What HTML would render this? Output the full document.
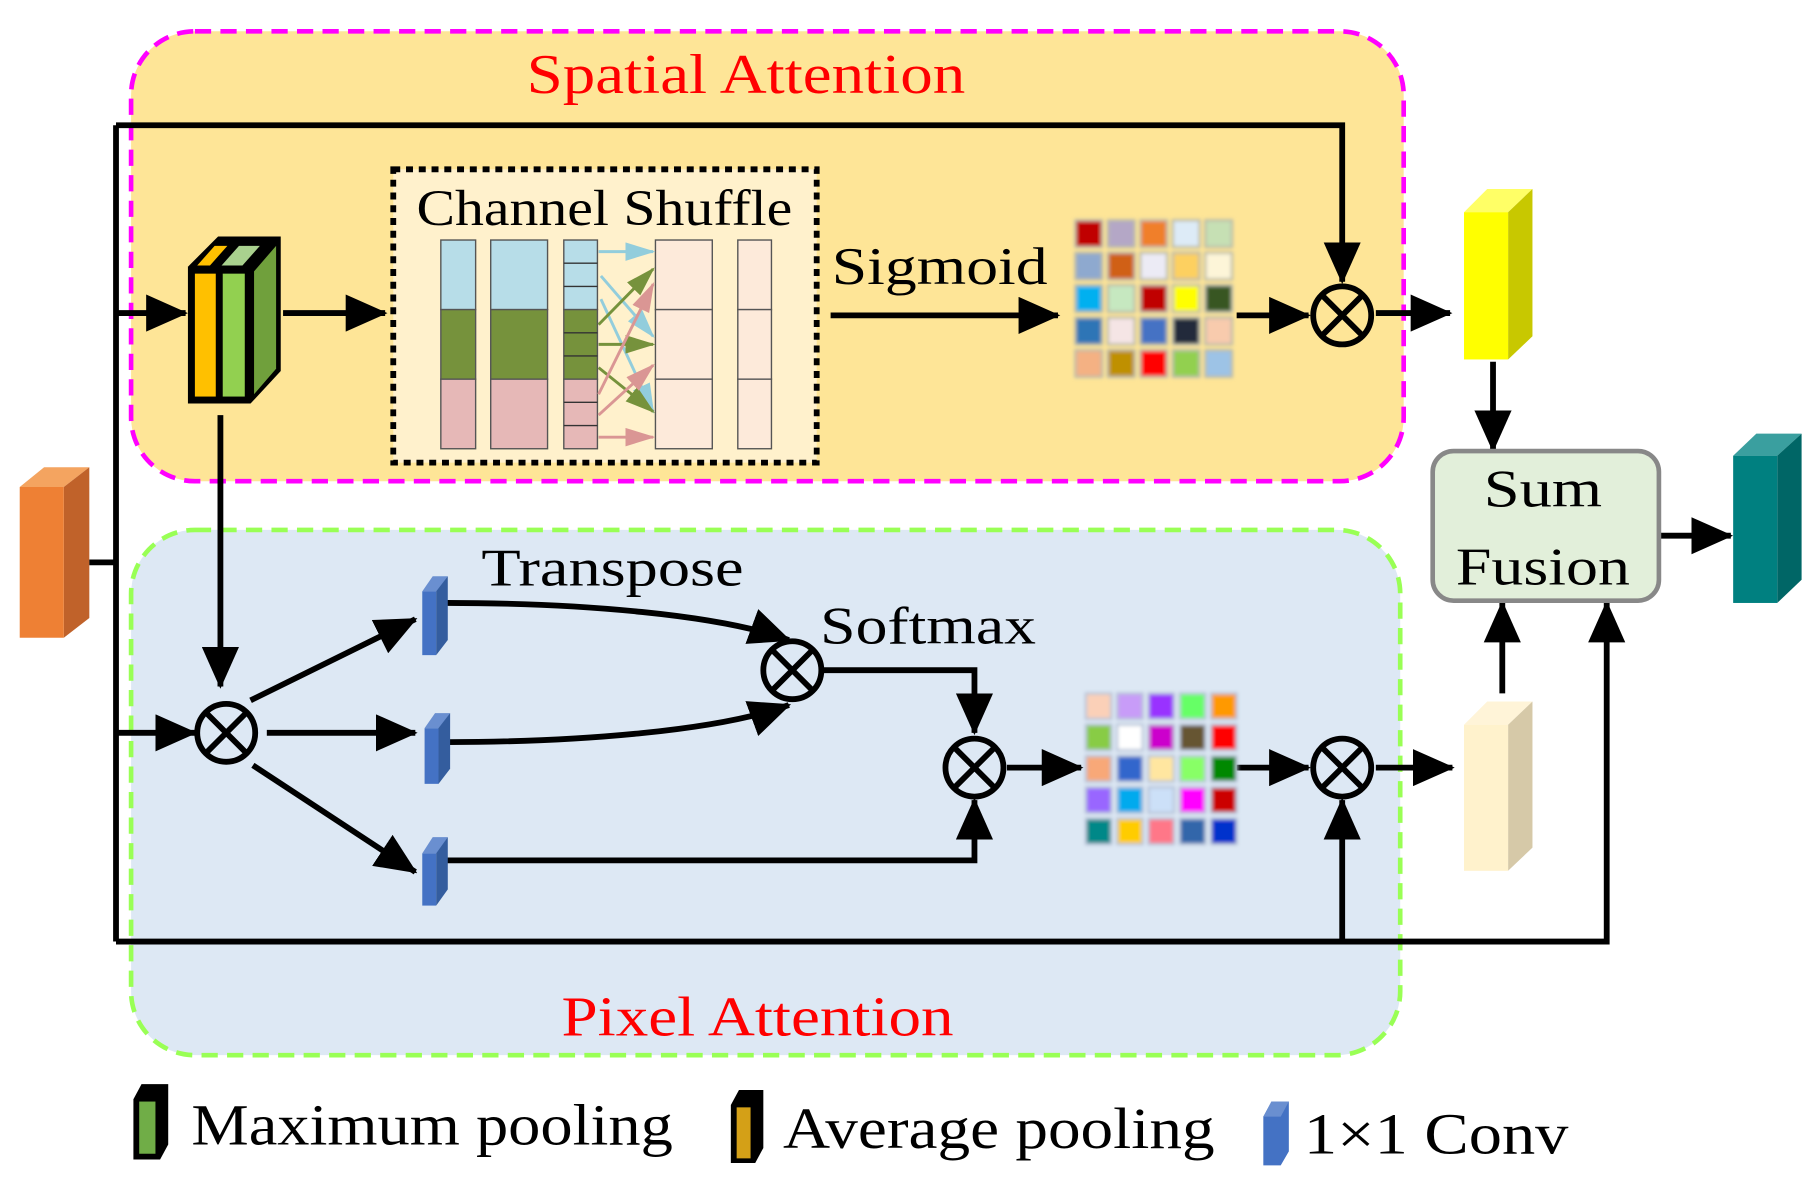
<!DOCTYPE html>
<html><head><meta charset="utf-8"><style>
html,body{margin:0;padding:0;background:#fff;}
svg{display:block;}
text{font-family:"Liberation Serif",serif;}
</style></head><body>
<svg width="1819" height="1192" viewBox="0 0 1568 1028" preserveAspectRatio="none" xmlns="http://www.w3.org/2000/svg">
<defs>
<marker id="a" markerUnits="userSpaceOnUse" markerWidth="36" markerHeight="32" refX="34" refY="16" orient="auto">
<path d="M0,0 L36,16 L0,32 z" fill="#000"/></marker>
<marker id="sb" markerUnits="userSpaceOnUse" markerWidth="26" markerHeight="16" refX="24" refY="8" orient="auto"><path d="M0,0 L26,8 L0,16 z" fill="#92cddc"/></marker>
<marker id="sg" markerUnits="userSpaceOnUse" markerWidth="26" markerHeight="16" refX="24" refY="8" orient="auto"><path d="M0,0 L26,8 L0,16 z" fill="#76923c"/></marker>
<marker id="sp" markerUnits="userSpaceOnUse" markerWidth="26" markerHeight="16" refX="24" refY="8" orient="auto"><path d="M0,0 L26,8 L0,16 z" fill="#da9694"/></marker>
<g id="ot"><circle r="25" fill="none" stroke="#000" stroke-width="5"/><path d="M-17,-17 L17,17 M17,-17 L-17,17" stroke="#000" stroke-width="5"/></g>
<filter id="bl"><feGaussianBlur stdDeviation="1.6"/></filter>
</defs>

<rect x="113" y="27" width="1097" height="388" rx="55" fill="#fee597" stroke="#ff00ff" stroke-width="4" stroke-dasharray="14,8"/>
<rect x="113" y="457" width="1094" height="453" rx="55" fill="#dde8f4" stroke="#99ff55" stroke-width="4" stroke-dasharray="14,8"/>
<text x="643" y="80" font-size="48" fill="#ff0000" text-anchor="middle" textLength="378" lengthAdjust="spacingAndGlyphs">Spatial Attention</text>
<text x="653" y="893" font-size="48" fill="#ff0000" text-anchor="middle" textLength="338" lengthAdjust="spacingAndGlyphs">Pixel Attention</text>

<polygon points="17,420 38,403 77,403 55,420" fill="#f4a460"/>
<polygon points="55,420 77,403 77,533 55,550" fill="#c0622a"/>
<rect x="17" y="420" width="38" height="130" fill="#ee8034"/>

<g stroke="#000" stroke-width="5" fill="none">
<path d="M77,485 H100"/>
<path d="M100,108 V812"/>
<path d="M100,108 H1157 V243" marker-end="url(#a)"/>
<path d="M100,270 H160" marker-end="url(#a)"/>
<path d="M100,812 H1385 V520" marker-end="url(#a)"/>
<path d="M1157,812 V690" marker-end="url(#a)"/>
<path d="M100,632 H168" marker-end="url(#a)"/>
<path d="M244,270 H332" marker-end="url(#a)"/>
<path d="M190,358 V592" marker-end="url(#a)"/>
<path d="M716,272 H912" marker-end="url(#a)"/>
<path d="M1066,272 H1128" marker-end="url(#a)"/>
<path d="M1186,270 H1250" marker-end="url(#a)"/>
<path d="M1287,312 V388" marker-end="url(#a)"/>
<path d="M1430,462 H1492" marker-end="url(#a)"/>
<path d="M1295,598 V520" marker-end="url(#a)"/>
<path d="M216,604 L358,534" marker-end="url(#a)"/>
<path d="M230,632 H358" marker-end="url(#a)"/>
<path d="M218,660 L358,752" marker-end="url(#a)"/>
<path d="M385,520 C500,520 620,530 680,552" marker-end="url(#a)"/>
<path d="M385,640 C500,640 620,630 680,608" marker-end="url(#a)"/>
<path d="M710,578 H840 V632" marker-end="url(#a)"/>
<path d="M385,742 H840 V690" marker-end="url(#a)"/>
<path d="M868,662 H932" marker-end="url(#a)"/>
<path d="M1066,662 H1128" marker-end="url(#a)"/>
<path d="M1186,662 H1252" marker-end="url(#a)"/>
</g>

<!-- pooling block -->
<polygon points="162,348 162,230 188,204 242,204 242,320 216,348" fill="#000"/>
<rect x="168" y="236" width="18" height="106" fill="#ffc000"/>
<rect x="192" y="236" width="19" height="106" fill="#92d050"/>
<polygon points="219,234 238,212 238,318 219,340" fill="#70a03c"/>
<polygon points="170,229 185,212 196,212 181,229" fill="#ffc000"/>
<polygon points="191,229 206,212 224,212 209,229" fill="#a9d18e"/>

<rect x="339" y="146" width="365" height="253" fill="#fff1cc" stroke="#000" stroke-width="5" stroke-dasharray="6,5"/>
<text x="521" y="194" font-size="44" text-anchor="middle" textLength="324" lengthAdjust="spacingAndGlyphs">Channel Shuffle</text>
<g stroke="#555" stroke-width="1.2">
<rect x="380" y="207" width="30" height="60" fill="#b7dde8"/><rect x="380" y="267" width="30" height="60" fill="#76923c"/><rect x="380" y="327" width="30" height="60" fill="#e6b8b7"/>
<rect x="423" y="207" width="49" height="60" fill="#b7dde8"/><rect x="423" y="267" width="49" height="60" fill="#76923c"/><rect x="423" y="327" width="49" height="60" fill="#e6b8b7"/>
<rect x="486" y="207" width="29" height="60" fill="#b7dde8"/><rect x="486" y="267" width="29" height="60" fill="#76923c"/><rect x="486" y="327" width="29" height="60" fill="#e6b8b7"/>
<path d="M486,227H515M486,247H515M486,287H515M486,307H515M486,347H515M486,367H515" stroke="#333"/>
<rect x="565" y="207" width="49" height="60" fill="#fdeada"/><rect x="565" y="267" width="49" height="60" fill="#fdeada"/><rect x="565" y="327" width="49" height="60" fill="#fdeada"/>
<rect x="636" y="207" width="29" height="60" fill="#fdeada"/><rect x="636" y="267" width="29" height="60" fill="#fdeada"/><rect x="636" y="327" width="29" height="60" fill="#fdeada"/>
</g>
<g stroke-width="2.5" fill="none">
<path d="M516,217 H563" stroke="#92cddc" marker-end="url(#sb)"/>
<path d="M518,238 L563,290" stroke="#92cddc" marker-end="url(#sb)"/>
<path d="M518,258 L563,355" stroke="#92cddc" marker-end="url(#sb)"/>
<path d="M516,280 L563,232" stroke="#76923c" marker-end="url(#sg)"/>
<path d="M516,297 H563" stroke="#76923c" marker-end="url(#sg)"/>
<path d="M516,317 L563,355" stroke="#76923c" marker-end="url(#sg)"/>
<path d="M516,340 L563,245" stroke="#da9694" marker-end="url(#sp)"/>
<path d="M516,358 L563,315" stroke="#da9694" marker-end="url(#sp)"/>
<path d="M516,377 H563" stroke="#da9694" marker-end="url(#sp)"/>
</g>

<text x="810" y="245" font-size="46" text-anchor="middle" textLength="186" lengthAdjust="spacingAndGlyphs">Sigmoid</text>

<g filter="url(#bl)" stroke="#bba" stroke-width="2">
<rect x="927" y="190" width="23" height="23" fill="#c00000"/><rect x="955" y="190" width="23" height="23" fill="#b4a7c6"/><rect x="983" y="190" width="23" height="23" fill="#f07f2a"/><rect x="1011" y="190" width="23" height="23" fill="#ddebf7"/><rect x="1039" y="190" width="23" height="23" fill="#c6e0b4"/>
<rect x="927" y="218" width="23" height="23" fill="#8ea9cf"/><rect x="955" y="218" width="23" height="23" fill="#d06018"/><rect x="983" y="218" width="23" height="23" fill="#ecebf5"/><rect x="1011" y="218" width="23" height="23" fill="#fdd060"/><rect x="1039" y="218" width="23" height="23" fill="#fdf5d8"/>
<rect x="927" y="246" width="23" height="23" fill="#00b0f0"/><rect x="955" y="246" width="23" height="23" fill="#c6e8c0"/><rect x="983" y="246" width="23" height="23" fill="#c00000"/><rect x="1011" y="246" width="23" height="23" fill="#ffff00"/><rect x="1039" y="246" width="23" height="23" fill="#375623"/>
<rect x="927" y="274" width="23" height="23" fill="#2e75b6"/><rect x="955" y="274" width="23" height="23" fill="#f5e5e5"/><rect x="983" y="274" width="23" height="23" fill="#4472c4"/><rect x="1011" y="274" width="23" height="23" fill="#222a3a"/><rect x="1039" y="274" width="23" height="23" fill="#f8cbad"/>
<rect x="927" y="302" width="23" height="23" fill="#f4b183"/><rect x="955" y="302" width="23" height="23" fill="#bf9000"/><rect x="983" y="302" width="23" height="23" fill="#ff0000"/><rect x="1011" y="302" width="23" height="23" fill="#92d050"/><rect x="1039" y="302" width="23" height="23" fill="#9dc3e6"/>
</g>

<g filter="url(#bl)" stroke="#b8c4d8" stroke-width="2">
<rect x="936" y="598" width="22" height="22" fill="#fbd0b8"/><rect x="963" y="598" width="22" height="22" fill="#c89cf8"/><rect x="990" y="598" width="22" height="22" fill="#9933ff"/><rect x="1017" y="598" width="22" height="22" fill="#66ff66"/><rect x="1044" y="598" width="22" height="22" fill="#ff9900"/>
<rect x="936" y="625" width="22" height="22" fill="#88cc44"/><rect x="963" y="625" width="22" height="22" fill="#ffffff"/><rect x="990" y="625" width="22" height="22" fill="#cc00cc"/><rect x="1017" y="625" width="22" height="22" fill="#665533"/><rect x="1044" y="625" width="22" height="22" fill="#ff0000"/>
<rect x="936" y="652" width="22" height="22" fill="#f8a878"/><rect x="963" y="652" width="22" height="22" fill="#3366cc"/><rect x="990" y="652" width="22" height="22" fill="#ffe6a0"/><rect x="1017" y="652" width="22" height="22" fill="#88ff66"/><rect x="1044" y="652" width="22" height="22" fill="#008800"/>
<rect x="936" y="679" width="22" height="22" fill="#9966ff"/><rect x="963" y="679" width="22" height="22" fill="#00aaee"/><rect x="990" y="679" width="22" height="22" fill="#cce0f8"/><rect x="1017" y="679" width="22" height="22" fill="#ff00ff"/><rect x="1044" y="679" width="22" height="22" fill="#cc0000"/>
<rect x="936" y="706" width="22" height="22" fill="#008888"/><rect x="963" y="706" width="22" height="22" fill="#ffcc00"/><rect x="990" y="706" width="22" height="22" fill="#ff7788"/><rect x="1017" y="706" width="22" height="22" fill="#3366aa"/><rect x="1044" y="706" width="22" height="22" fill="#0033cc"/>
</g>

<use href="#ot" x="1157" y="272"/>
<use href="#ot" x="195" y="632"/>
<use href="#ot" x="683" y="578"/>
<use href="#ot" x="840" y="662"/>
<use href="#ot" x="1157" y="662"/>

<g>
<polygon points="364,510 373,497 386,497 377,510" fill="#6a8fd0"/><rect x="364" y="510" width="12" height="55" fill="#4472c4"/><polygon points="376,510 386,497 386,552 376,565" fill="#345d9e"/>
<polygon points="366,628 375,615 388,615 379,628" fill="#6a8fd0"/><rect x="366" y="628" width="12" height="48" fill="#4472c4"/><polygon points="378,628 388,615 388,663 378,676" fill="#345d9e"/>
<polygon points="364,736 373,722 386,722 377,736" fill="#6a8fd0"/><rect x="364" y="736" width="12" height="45" fill="#4472c4"/><polygon points="376,736 386,722 386,767 376,781" fill="#345d9e"/>
</g>
<text x="528" y="505" font-size="46" text-anchor="middle" textLength="226" lengthAdjust="spacingAndGlyphs">Transpose</text>
<text x="800" y="555" font-size="46" text-anchor="middle" textLength="186" lengthAdjust="spacingAndGlyphs">Softmax</text>

<polygon points="1262,183 1282,163 1321,163 1300,183" fill="#ffff66"/>
<polygon points="1300,183 1321,163 1321,290 1300,310" fill="#c8c800"/>
<rect x="1262" y="183" width="38" height="127" fill="#ffff00"/>
<polygon points="1262,625 1282,605 1321,605 1300,625" fill="#fff4d8"/>
<polygon points="1300,625 1321,605 1321,731 1300,751" fill="#d6c9a8"/>
<rect x="1262" y="625" width="38" height="126" fill="#fff2cc"/>
<polygon points="1494,393 1514,374 1553,374 1532,393" fill="#3a9f9f"/>
<polygon points="1532,393 1553,374 1553,500 1532,520" fill="#006666"/>
<rect x="1494" y="393" width="38" height="127" fill="#008080"/>

<rect x="1235" y="389" width="195" height="129" rx="18" fill="#e2efda" stroke="#888" stroke-width="4"/>
<text x="1330" y="437" font-size="46" text-anchor="middle" textLength="102" lengthAdjust="spacingAndGlyphs">Sum</text>
<text x="1330" y="504" font-size="46" text-anchor="middle" textLength="150" lengthAdjust="spacingAndGlyphs">Fusion</text>

<polygon points="115,948 122,935 145,935 145,987 138,1000 115,1000" fill="#000"/>
<rect x="120" y="950" width="14" height="45" fill="#70ad47"/>
<text x="165" y="987" font-size="50" textLength="415" lengthAdjust="spacingAndGlyphs">Maximum pooling</text>
<polygon points="630,953 637,940 658,940 658,990 651,1003 630,1003" fill="#000"/>
<rect x="635" y="955" width="12" height="44" fill="#d4a017"/>
<text x="675" y="990" font-size="50" textLength="372" lengthAdjust="spacingAndGlyphs">Average pooling</text>
<polygon points="1089,963 1096,950 1111,950 1111,993 1104,1005 1089,1005" fill="#4472c4"/>
<polygon points="1089,963 1096,950 1111,950 1104,963" fill="#6a8fd0"/>
<text x="1124" y="995" font-size="50" textLength="228" lengthAdjust="spacingAndGlyphs">1×1 Conv</text>
</svg>
</body></html>
